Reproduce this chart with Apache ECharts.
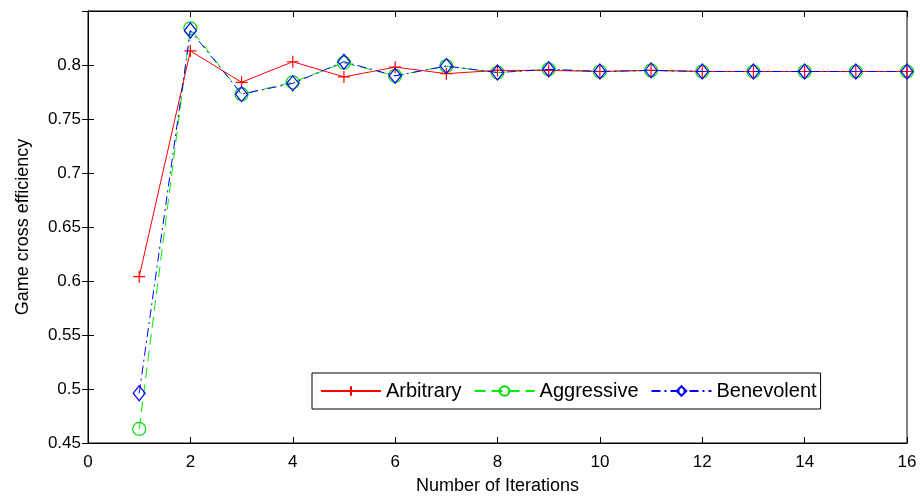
<!DOCTYPE html>
<html>
<head>
<meta charset="utf-8">
<script src="https://cdn.jsdelivr.net/npm/echarts@6/dist/echarts.min.js"></script>
<style>
  html, body { margin: 0; padding: 0; background: #fff; }
  #main { width: 920px; height: 500px; }
</style>
</head>
<body>
<div id="main"></div>
<script>
// iterations 1..16
var iterations = [1, 2, 3, 4, 5, 6, 7, 8, 9, 10, 11, 12, 13, 14, 15, 16]
var arbitrary = [0.604, 0.813, 0.784, 0.803, 0.789, 0.798, 0.792, 0.795, 0.795, 0.794, 0.795, 0.794, 0.794, 0.794, 0.794, 0.794]
var aggressive = [0.463, 0.834, 0.773, 0.784, 0.802, 0.790, 0.799, 0.793, 0.796, 0.794, 0.795, 0.794, 0.794, 0.794, 0.794, 0.794]
var benevolent = [0.496, 0.832, 0.773, 0.783, 0.803, 0.790, 0.799, 0.793, 0.796, 0.794, 0.795, 0.794, 0.794, 0.794, 0.794, 0.794]
var xTicks = { min: 0, max: 16, interval: 2 }
var yTicks = { min: 0.45, max: 0.85, interval: 0.05 }

function pairs (ys) {
  var out = []
  for (var i = 0; i < ys.length; i++) {
    out.push([iterations[i], ys[i]])
  }
  return out
}

var font = 'Liberation Sans, Arial, sans-serif'
var plus = 'path://M0,6L12,6M6,0L6,12'

var chart = echarts.init(document.getElementById('main'))
chart.setOption({
  animation: false,
  textStyle: { fontFamily: font },
  grid: {
    left: 88,
    right: 13,
    top: 11,
    bottom: 51,
    show: true,
    borderColor: '#000',
    borderWidth: 1
  },
  legend: {
    left: 312,
    top: 373,
    width: 600,
    padding: [8, 4, 8, 8],
    borderColor: '#000',
    borderWidth: 1,
    backgroundColor: '#fff',
    itemWidth: 60,
    itemHeight: 12,
    itemGap: 12,
    textStyle: { fontSize: 20, color: '#000', fontFamily: font },
    data: ['Arbitrary', 'Aggressive', 'Benevolent']
  },
  xAxis: [
    {
      type: 'value',
      min: xTicks.min,
      max: xTicks.max,
      interval: xTicks.interval,
      name: 'Number of Iterations',
      nameLocation: 'middle',
      nameGap: 34,
      nameTextStyle: { fontSize: 18, color: '#000' },
      axisLine: { lineStyle: { color: '#000' } },
      axisTick: { inside: true, length: 6, lineStyle: { color: '#000' } },
      axisLabel: { fontSize: 17, color: '#000', margin: 11 },
      splitLine: { show: false }
    },
    {
      type: 'value',
      position: 'top',
      min: xTicks.min,
      max: xTicks.max,
      interval: xTicks.interval,
      axisLine: { lineStyle: { color: '#000' } },
      axisTick: { inside: true, length: 6, lineStyle: { color: '#000' } },
      axisLabel: { show: false },
      splitLine: { show: false }
    }
  ],
  yAxis: [
    {
      type: 'value',
      min: yTicks.min,
      max: yTicks.max,
      interval: yTicks.interval,
      name: 'Game cross efficiency',
      nameLocation: 'middle',
      nameGap: 56,
      nameTextStyle: { fontSize: 18, color: '#000' },
      axisLine: { show: true, lineStyle: { color: '#000' } },
      axisTick: { show: true, inside: true, length: 6, lineStyle: { color: '#000' } },
      axisLabel: {
        fontSize: 17,
        color: '#000',
        margin: 7,
        formatter: function (v) {
          var r = Math.round(v * 100) / 100
          return r >= 0.849 ? '' : String(r)
        }
      },
      splitLine: { show: false }
    },
    {
      type: 'value',
      position: 'right',
      min: yTicks.min,
      max: yTicks.max,
      interval: yTicks.interval,
      axisLine: { show: true, lineStyle: { color: '#000' } },
      axisTick: { show: true, inside: true, length: 6, lineStyle: { color: '#000' } },
      axisLabel: { show: false },
      splitLine: { show: false }
    }
  ],
  series: [
    {
      name: 'Arbitrary',
      type: 'line',
      data: pairs(arbitrary),
      symbol: plus,
      symbolSize: 12,
      showAllSymbol: true,
      lineStyle: { color: '#ff0000', width: 1 },
      itemStyle: { color: '#ff0000', borderColor: '#ff0000', borderWidth: 1.2 },
      z: 3
    },
    {
      name: 'Aggressive',
      type: 'line',
      data: pairs(aggressive),
      symbol: 'circle',
      symbolSize: 13,
      showAllSymbol: true,
      lineStyle: { color: '#00ee00', width: 1, type: [11, 6] },
      itemStyle: { color: 'rgba(0,0,0,0)', borderColor: '#00dd00', borderWidth: 1.2 },
      z: 2
    },
    {
      name: 'Benevolent',
      type: 'line',
      data: pairs(benevolent),
      symbol: 'diamond',
      symbolSize: [12, 15],
      showAllSymbol: true,
      lineStyle: { color: '#0000ff', width: 1, type: [9, 4, 2, 4] },
      itemStyle: { color: 'rgba(0,0,0,0)', borderColor: '#0000ff', borderWidth: 1.2 },
      z: 4
    }
  ]
})
</script>
</body>
</html>
